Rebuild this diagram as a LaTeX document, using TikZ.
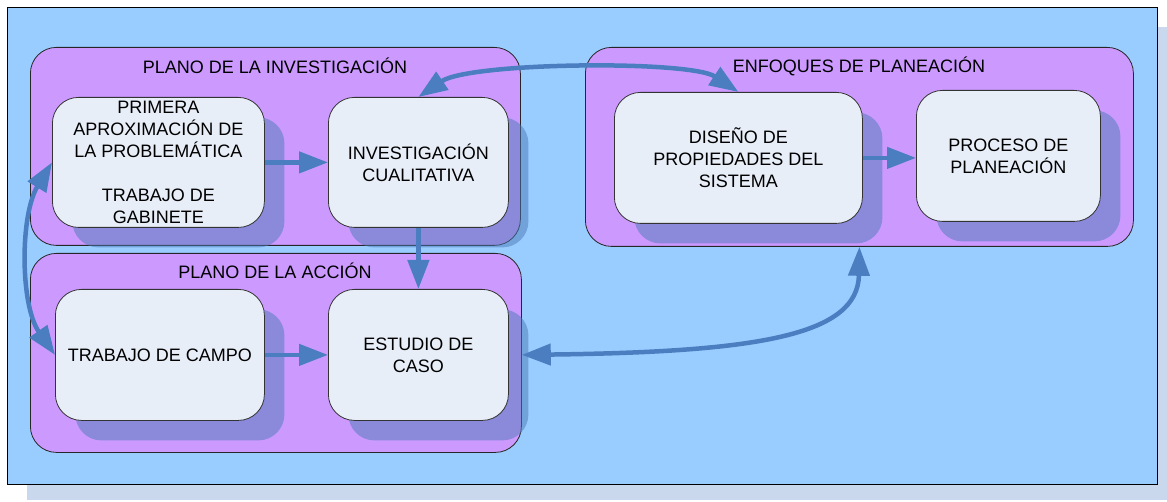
\documentclass[tikz,border=0pt]{standalone}
\usepackage{fontspec}
\setmainfont{Liberation Sans}
\usetikzlibrary{arrows.meta,calc,shadows}
\definecolor{bgblue}{HTML}{99CCFF}
\definecolor{grpviolet}{HTML}{CC99FF}
\definecolor{boxfill}{HTML}{E8EEF8}
\definecolor{arrowblue}{HTML}{4A7EC0}
\definecolor{shadowcol}{HTML}{4A7BB7}
\definecolor{outershadow}{HTML}{C9D8EC}
\begin{document}
\begin{tikzpicture}[x=1pt,y=-1pt,
  grp/.style={draw=black!85, line width=0.8pt, fill=grpviolet, rounded corners=26pt, anchor=north west, inner sep=0pt},
  box/.style={draw=black!80, line width=0.8pt, fill=boxfill, rounded corners=26pt, anchor=north west,
    align=center, font=\fontsize{18}{22}\selectfont, inner sep=2pt,
    drop shadow={shadow xshift=20pt, shadow yshift=-20pt, fill=shadowcol, opacity=0.5}},
  lbl/.style={font=\fontsize{18}{22}\selectfont, align=center, inner sep=0pt},
  tipA/.tip={Triangle[length=29pt,width=21pt]},
  conn/.style={draw=arrowblue, line width=4.5pt, -tipA},
  conn2/.style={draw=arrowblue, line width=4.5pt, tipA-tipA}
]
\useasboundingbox (0,0) rectangle (1167,502);
% outer frame and its shadow
\fill[outershadow] (27,27) rectangle (1167,500);
\draw[fill=bgblue, line width=0.8pt] (7,7) rectangle (1157,484);

% groups
\node[grp, minimum width=490pt, minimum height=198pt] (ginv) at (30,47) {};
\node[grp, minimum width=491pt, minimum height=199pt] (gacc) at (30,253) {};
\node[grp, minimum width=548pt, minimum height=199pt] (genf) at (585,47) {};
\node[lbl] (tinv) at (275,66) {PLANO DE LA INVESTIGACIÓN};
\node[lbl] (tacc) at (275,271) {PLANO DE LA ACCIÓN};
\node[lbl] (tenf) at (859,66) {ENFOQUES DE PLANEACIÓN};

% boxes
\node[box, minimum width=212pt, minimum height=130pt] (prim) at (52,97)
  {PRIMERA\\APROXIMACIÓN DE\\LA PROBLEMÁTICA\\[22pt]TRABAJO DE\\GABINETE};
\node[box, minimum width=180pt, minimum height=130pt] (inv) at (328,97)
  {INVESTIGACIÓN\\CUALITATIVA};
\node[box, minimum width=209pt, minimum height=131pt] (camp) at (55,289)
  {TRABAJO DE CAMPO};
\node[box, minimum width=180pt, minimum height=131pt] (est) at (328,289)
  {ESTUDIO DE\\CASO};
\node[box, minimum width=248pt, minimum height=131pt] (dis) at (614,92)
  {DISEÑO DE\\PROPIEDADES DEL\\SISTEMA};
\node[box, minimum width=184pt, minimum height=131pt] (proc) at (916,90)
  {PROCESO DE\\PLANEACIÓN};

% connectors
\draw[conn] (prim) -- (inv);
\draw[conn] (inv) -- (est);
\draw[conn] (camp) -- (est);
\draw[conn] (dis.east) -- (dis.east -| proc.west);
\draw[conn2] (inv.north) .. controls (470,62) and (690,60) .. (dis.north);
\draw[conn2] (prim.west) .. controls (20,215) and (20,305) .. (camp.west);
\coordinate (estR) at (gacc.east |- est.east);
\draw[conn2] (estR) .. controls (760,352) and (858,335) .. (genf.south);
\end{tikzpicture}
\end{document}
